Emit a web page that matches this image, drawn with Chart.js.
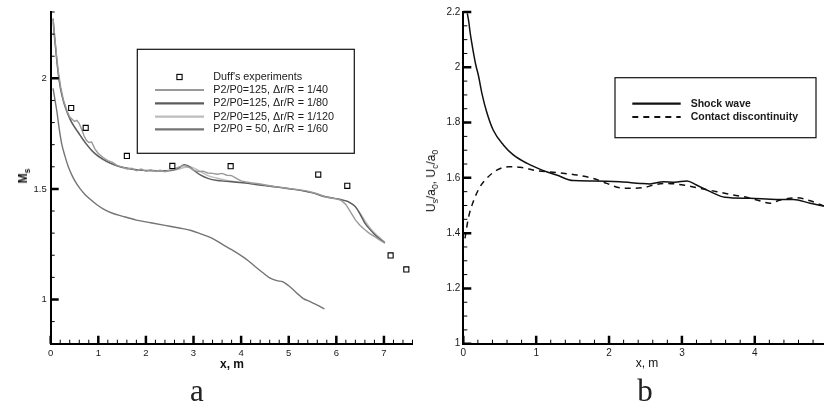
<!DOCTYPE html>
<html><head><meta charset="utf-8">
<script src="https://cdn.jsdelivr.net/npm/chart.js@4.4.1/dist/chart.umd.min.js"></script>
<style>
html,body{margin:0;padding:0;background:#fff;}
body{width:824px;height:407px;position:relative;overflow:hidden;font-family:"Liberation Sans",Arial,sans-serif;color:#111;}
canvas{position:absolute;top:0;}
#ca{left:0;}
#cb{left:420px;}
.t{position:absolute;white-space:nowrap;transform:translate(-50%,-50%);line-height:1;}
.rot{transform:translate(-50%,-50%) rotate(-90deg);}
.t sub{font-size:72%;vertical-align:baseline;position:relative;top:0.3em;}
.big{position:absolute;font-family:"Liberation Serif","DejaVu Serif",serif;font-size:31px;line-height:1;transform:translateX(-50%);color:#222;}
</style></head>
<body>
<canvas id="ca" width="420" height="407"></canvas>
<canvas id="cb" width="404" height="407"></canvas>
<div class="t rot" style="left:23px;top:176px;font-weight:bold;font-size:12px;">M<sub>s</sub></div>
<div class="t" style="left:232px;top:364px;font-weight:bold;font-size:12px;">x, m</div>
<div class="t rot" style="left:431px;top:181px;font-size:12px;">U<sub>s</sub>/a<sub>0</sub>, U<sub>c</sub>/a<sub>0</sub></div>
<div class="t" style="left:647px;top:363px;font-size:12px;">x, m</div>
<div class="big" style="left:197px;top:375px;">a</div>
<div class="big" style="left:645px;top:375px;">b</div>
<script>
// ---------- Panel a data ----------
const xTicksA = [0, 1, 2, 3, 4, 5, 6, 7];
const yTicksA = [1, 1.5, 2];
const expX = [0.43, 0.735, 1.60, 2.555, 3.78, 5.62, 6.23, 7.14, 7.47];
const expY = [1.866, 1.776, 1.649, 1.604, 1.603, 1.565, 1.514, 1.199, 1.136];

const x40 = [0.05,0.08,0.12,0.16,0.21,0.27,0.34,0.40,0.45,0.5,0.55,0.6,0.65,0.7,0.75,0.8,0.86,0.93,1.0,1.1,1.2,1.3,1.4,1.5,1.6,1.7,1.8,1.9,2.0,2.1,2.2,2.3,2.4,2.5,2.6,2.7,2.8,2.9,3.0,3.1,3.2,3.3,3.4,3.5,3.6,3.7,3.8,3.9,4.0,4.1,4.2,4.4,4.6,4.8,5.0,5.2,5.4,5.6,5.8,6.0,6.1,6.2,6.3,6.4,6.5,6.6,6.7,6.8,6.9,7.02];
const y40 = [2.27,2.20,2.11,2.03,1.96,1.90,1.855,1.825,1.815,1.805,1.81,1.795,1.77,1.74,1.72,1.71,1.712,1.68,1.66,1.642,1.628,1.62,1.605,1.60,1.59,1.594,1.582,1.59,1.58,1.586,1.58,1.584,1.578,1.585,1.59,1.60,1.606,1.598,1.585,1.578,1.58,1.572,1.57,1.566,1.57,1.562,1.56,1.548,1.536,1.532,1.528,1.522,1.514,1.508,1.502,1.497,1.49,1.478,1.462,1.455,1.448,1.43,1.395,1.36,1.335,1.315,1.298,1.285,1.27,1.255];

const x80 = [0.05,0.08,0.12,0.16,0.21,0.27,0.34,0.42,0.5,0.58,0.66,0.76,0.88,1.0,1.15,1.3,1.5,1.7,1.9,2.1,2.3,2.5,2.62,2.72,2.8,2.9,3.0,3.15,3.3,3.5,3.7,3.9,4.1,4.3,4.5,4.7,4.9,5.1,5.3,5.5,5.7,5.9,6.1,6.25,6.4,6.5,6.6,6.7,6.8,6.9,7.02];
const y80 = [2.27,2.19,2.10,2.02,1.95,1.895,1.85,1.81,1.78,1.755,1.73,1.70,1.67,1.648,1.628,1.612,1.598,1.59,1.585,1.583,1.582,1.583,1.588,1.598,1.61,1.603,1.585,1.562,1.548,1.538,1.534,1.53,1.526,1.52,1.515,1.51,1.504,1.498,1.491,1.482,1.468,1.459,1.451,1.442,1.42,1.385,1.345,1.318,1.295,1.276,1.256];

const x120 = [0.05,0.08,0.12,0.16,0.21,0.27,0.34,0.42,0.5,0.58,0.66,0.76,0.88,1.0,1.15,1.3,1.5,1.7,1.9,2.1,2.3,2.5,2.62,2.72,2.8,2.9,3.0,3.15,3.3,3.5,3.7,3.9,4.1,4.3,4.5,4.7,4.9,5.1,5.3,5.5,5.7,5.9,6.1,6.25,6.4,6.5,6.6,6.7,6.8,6.9,7.02];
const y120 = [2.25,2.18,2.095,2.015,1.948,1.893,1.848,1.808,1.778,1.753,1.728,1.698,1.668,1.646,1.626,1.611,1.597,1.589,1.584,1.582,1.581,1.582,1.586,1.591,1.597,1.60,1.595,1.578,1.56,1.548,1.538,1.532,1.527,1.521,1.516,1.51,1.505,1.499,1.492,1.483,1.469,1.46,1.452,1.442,1.418,1.39,1.356,1.326,1.302,1.282,1.258];

const x50 = [0.05,0.08,0.13,0.18,0.23,0.3,0.37,0.45,0.53,0.62,0.72,0.83,0.95,1.1,1.3,1.5,1.8,2.1,2.4,2.7,2.95,3.15,3.3,3.45,3.6,3.8,4.0,4.15,4.3,4.45,4.6,4.75,4.88,5.0,5.1,5.2,5.3,5.45,5.6,5.75];
const y50 = [1.955,1.915,1.85,1.77,1.705,1.648,1.60,1.56,1.528,1.50,1.475,1.453,1.432,1.41,1.39,1.377,1.359,1.347,1.335,1.323,1.312,1.297,1.285,1.27,1.25,1.225,1.198,1.175,1.148,1.122,1.098,1.085,1.08,1.062,1.043,1.023,1.005,0.99,0.975,0.957];

const labelsA = ["Duff's experiments","P2/P0=125, \u0394r/R = 1/40","P2/P0=125, \u0394r/R = 1/80","P2/P0=125, \u0394r/R = 1/120","P2/P0 = 50, \u0394r/R = 1/60"];

// ---------- Panel b data ----------
const xTicksB = [0, 1, 2, 3, 4];
const yTicksB = [1, 1.2, 1.4, 1.6, 1.8, 2, 2.2];
const shockX = [0.055,0.075,0.092,0.115,0.137,0.17,0.206,0.26,0.32,0.41,0.55,0.686,0.87,1.10,1.28,1.51,1.78,2.15,2.43,2.56,2.745,2.9,3.07,3.2,3.39,3.59,3.935,4.3,4.53,4.76,4.95];
const shockY = [2.195,2.165,2.129,2.09,2.056,2.01,1.972,1.90,1.839,1.773,1.719,1.683,1.653,1.626,1.610,1.590,1.589,1.586,1.580,1.578,1.586,1.584,1.589,1.574,1.550,1.530,1.526,1.522,1.522,1.508,1.498];
const contactX = [0.023,0.069,0.137,0.23,0.32,0.46,0.62,0.78,1.01,1.28,1.56,1.78,1.97,2.15,2.33,2.5,2.61,2.79,3.02,3.25,3.48,3.66,3.84,4.03,4.21,4.35,4.58,4.76,4.95];
const contactY = [1.381,1.454,1.514,1.568,1.598,1.628,1.640,1.638,1.626,1.619,1.610,1.598,1.580,1.564,1.562,1.566,1.574,1.580,1.574,1.562,1.550,1.540,1.532,1.520,1.508,1.520,1.528,1.517,1.498];
const labelsB = ["Shock wave","Contact discontinuity"];

const pts = (xs, ys) => xs.map((x, i) => ({x, y: ys[i]}));

// ---------- plugins ----------
const innerTicks = {
  id: 'innerTicks',
  afterDraw(chart, args, o) {
    const {ctx, chartArea: ca} = chart;
    const xs = chart.scales.x, ys = chart.scales.y;
    ctx.save();
    ctx.strokeStyle = '#000';
    const loop = (scale, step, fn) => {
      const n = Math.round((scale.max - scale.min) / step + 1e-6);
      for (let i = 0; i <= n; i++) fn(scale.min + i * step);
    };
    ctx.lineWidth = 1;
    ctx.beginPath();
    loop(xs, o.xMinor, v => { const p = xs.getPixelForValue(v); ctx.moveTo(p, ca.bottom); ctx.lineTo(p, ca.bottom - 4); });
    loop(ys, o.yMinor, v => { const p = ys.getPixelForValue(v); ctx.moveTo(ca.left, p); ctx.lineTo(ca.left + 4, p); });
    ctx.stroke();
    ctx.lineWidth = 2.5;
    ctx.beginPath();
    xs.ticks.forEach(t => { const p = xs.getPixelForValue(t.value); ctx.moveTo(p, ca.bottom); ctx.lineTo(p, ca.bottom - 8); });
    ys.ticks.forEach(t => { const p = ys.getPixelForValue(t.value); ctx.moveTo(ca.left, p); ctx.lineTo(ca.left + 8, p); });
    ctx.stroke();
    ctx.restore();
  }
};

const boxLegend = {
  id: 'boxLegend',
  afterDraw(chart, args, o) {
    const {ctx} = chart;
    ctx.save();
    ctx.strokeStyle = '#111';
    ctx.lineWidth = 1.2;
    ctx.strokeRect(o.box[0], o.box[1], o.box[2] - o.box[0], o.box[3] - o.box[1]);
    ctx.font = o.font;
    ctx.textBaseline = 'middle';
    ctx.textAlign = 'left';
    chart.data.datasets.forEach((ds, i) => {
      const y = o.rows[i];
      if (ds.showLine === false) {
        const s = 2.6, cx = (o.line[0] + o.line[1]) / 2;
        ctx.fillStyle = '#fff'; ctx.fillRect(cx - s, y - s, 2 * s, 2 * s);
        ctx.strokeStyle = '#000'; ctx.lineWidth = 1.1; ctx.setLineDash([]);
        ctx.strokeRect(cx - s, y - s, 2 * s, 2 * s);
      } else {
        ctx.strokeStyle = ds.borderColor; ctx.lineWidth = o.lineWidth;
        ctx.setLineDash(ds.borderDash || []);
        ctx.beginPath(); ctx.moveTo(o.line[0], y); ctx.lineTo(o.line[1], y); ctx.stroke();
        ctx.setLineDash([]);
      }
      ctx.fillStyle = '#1a1a1a';
      ctx.fillText(ds.label, o.textX, y);
    });
    ctx.restore();
  }
};

const axisCommon = (min, max, tickVals, tickFont, pad) => ({
  type: 'linear', min, max,
  grid: {display: true, drawOnChartArea: false, drawTicks: false, color: 'rgba(0,0,0,0)'},
  border: {display: true, color: '#000', width: 2},
  afterBuildTicks: s => { s.ticks = tickVals.map(v => ({value: v})); },
  ticks: {autoSkip: false, maxRotation: 0, padding: pad, color: '#1a1a1a',
          font: {family: '"Liberation Sans", Arial, sans-serif', size: tickFont},
          callback: v => String(Math.round(v * 10) / 10)}
});

Chart.defaults.animation = false;

// ---------- Chart a ----------
new Chart(document.getElementById('ca'), {
  type: 'line',
  data: {
    datasets: [
      {label: labelsA[0], data: pts(expX, expY), showLine: false, pointStyle: 'rect', pointRadius: 3.6,
       pointBackgroundColor: '#fff', pointBorderColor: '#000', pointBorderWidth: 1.1, borderColor: '#000'},
      {label: labelsA[1], data: pts(x40, y40), borderColor: '#9a9a9a', borderWidth: 1.4, pointRadius: 0, tension: 0},
      {label: labelsA[2], data: pts(x80, y80), borderColor: '#5c5c5c', borderWidth: 1.4, pointRadius: 0, cubicInterpolationMode: 'monotone'},
      {label: labelsA[3], data: pts(x120, y120), borderColor: '#bdbdbd', borderWidth: 1.4, pointRadius: 0, cubicInterpolationMode: 'monotone'},
      {label: labelsA[4], data: pts(x50, y50), borderColor: '#747474', borderWidth: 1.4, pointRadius: 0, cubicInterpolationMode: 'monotone'}
    ]
  },
  options: {
    responsive: false, devicePixelRatio: 1,
    layout: {padding: {top: 12, right: 7.5, left: 0, bottom: 0}},
    scales: {
      x: Object.assign(axisCommon(0, 7.6, xTicksA, 9.5, 4), {afterFit: s => { s.height = 63.3; }}),
      y: Object.assign(axisCommon(0.8, 2.3, yTicksA, 9.5, 4), {afterFit: s => { s.width = 50.7; }})
    },
    plugins: {
      legend: {display: false}, tooltip: {enabled: false},
      innerTicks: {xMinor: 0.2, yMinor: 0.1},
      boxLegend: {box: [137.3, 49.3, 354.3, 153.3], rows: [77, 90, 103.3, 116.7, 129.3], line: [155, 204], textX: 213.3,
                  lineWidth: 2.2, font: '10.8px "Liberation Sans", Arial, sans-serif'}
    }
  },
  plugins: [innerTicks, boxLegend]
});

// ---------- Chart b ----------
new Chart(document.getElementById('cb'), {
  type: 'line',
  data: {
    datasets: [
      {label: labelsB[0], data: pts(shockX, shockY), borderColor: '#111', borderWidth: 1.5, pointRadius: 0, cubicInterpolationMode: 'monotone'},
      {label: labelsB[1], data: pts(contactX, contactY), borderColor: '#111', borderWidth: 1.5, borderDash: [6, 5], pointRadius: 0, cubicInterpolationMode: 'monotone'}
    ]
  },
  options: {
    responsive: false, devicePixelRatio: 1,
    layout: {padding: {top: 12, right: 0, left: 0, bottom: 0}},
    scales: {
      x: Object.assign(axisCommon(0, 4.95, xTicksB, 10, 4), {afterFit: s => { s.height = 63.3; }}),
      y: Object.assign(axisCommon(1, 2.2, yTicksB, 10, 3), {afterFit: s => { s.width = 43.3; }})
    },
    plugins: {
      legend: {display: false}, tooltip: {enabled: false},
      innerTicks: {xMinor: 0.2, yMinor: 0.05},
      boxLegend: {box: [195, 77.7, 396, 137.7], rows: [103.7, 117], line: [212.3, 260.7], textX: 270.7,
                  lineWidth: 2.2, font: 'bold 10.5px "Liberation Sans", Arial, sans-serif'}
    }
  },
  plugins: [innerTicks, boxLegend]
});
</script>
</body></html>
